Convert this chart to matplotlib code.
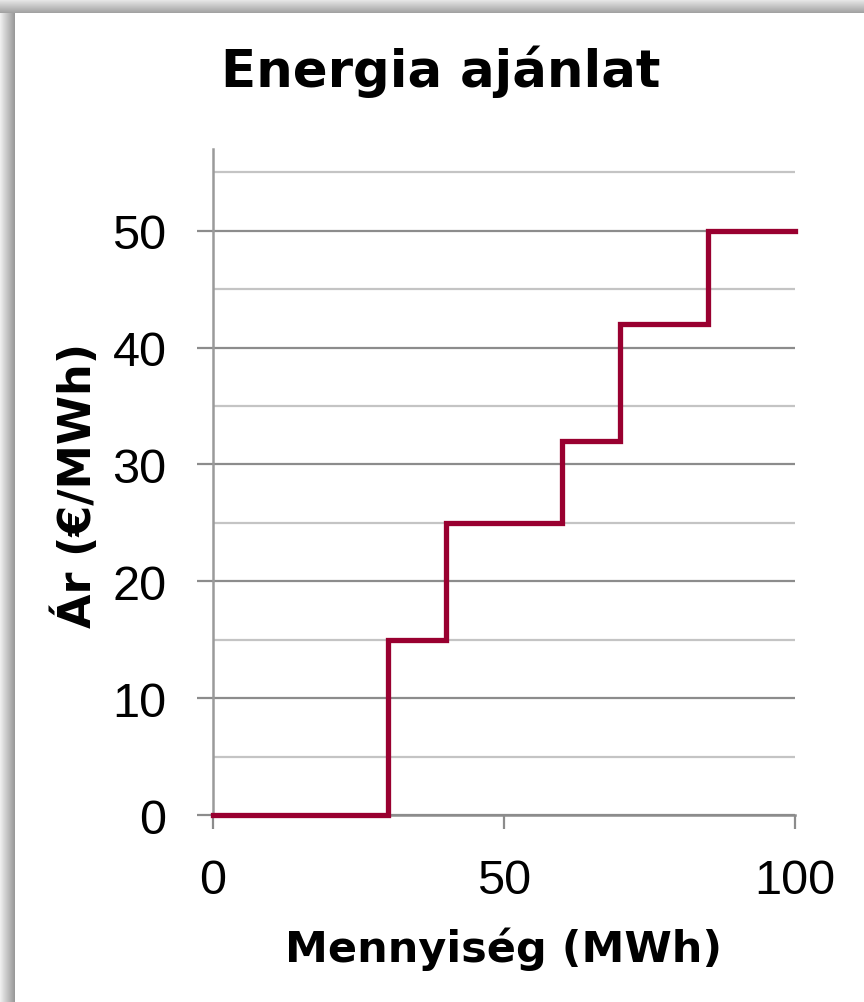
import numpy as np
import matplotlib
matplotlib.use("Agg")
import matplotlib.pyplot as plt
from matplotlib.ticker import MultipleLocator

# Offer curve: quantity break points (MWh) and the price of each block (EUR/MWh)
quantity_edges = [0, 30, 40, 60, 70, 85, 100]
block_prices = [0, 15, 25, 32, 42, 50]

title_text = "Energia ajánlat"
x_label = "Mennyiség (MWh)"
y_label = "Ár (€/MWh)"
x_ticks = [0, 50, 100]
y_ticks = [0, 10, 20, 30, 40, 50]

W, H = 864, 1003
fig = plt.figure(figsize=(W / 100, H / 100), dpi=100)
fig.patch.set_facecolor("white")

# Shaded frame along the left and top edges
frame = fig.add_axes([0, 0, 1, 1], zorder=-5)
frame.axis("off")
left_img = np.tile(np.linspace(0.93, 0.60, 15), (H, 1))
frame.imshow(left_img, cmap="gray", vmin=0, vmax=1, extent=[0, 15, H, 0],
             aspect="auto", interpolation="bilinear")
top_img = np.tile(np.linspace(0.92, 0.64, 14)[:, None], (1, W))
frame.imshow(top_img, cmap="gray", vmin=0, vmax=1, extent=[0, W, 14, 0],
             aspect="auto", interpolation="bilinear")
frame.set_xlim(0, W)
frame.set_ylim(H, 0)

ax = fig.add_axes([213 / W, 1 - 816 / H, (795 - 213) / W, (816 - 150) / H])
ax.set_facecolor("none")

# Step line: each price holds until the next quantity break
xs = quantity_edges
ys = block_prices + [block_prices[-1]]
ax.step(xs, ys, where="post", color="#990030", lw=3.8, solid_joinstyle="miter",
        zorder=5, clip_on=False)

ax.set_xlim(0, 100)
ax.set_ylim(0, 57)

ax.yaxis.set_minor_locator(MultipleLocator(5))
ax.set_yticks(y_ticks)
ax.set_xticks(x_ticks)
ax.grid(axis="y", which="major", color="#8c8c8c", lw=1.6)
ax.grid(axis="y", which="minor", color="#c4c4c4", lw=1.6)
ax.set_axisbelow(True)

for s in ["top", "right"]:
    ax.spines[s].set_visible(False)
ax.spines["left"].set_color("#9a9a9a")
ax.spines["left"].set_linewidth(1.8)
ax.spines["left"].set_bounds(0, 57)
ax.spines["bottom"].set_color("#8c8c8c")
ax.spines["bottom"].set_linewidth(1.8)

ax.tick_params(axis="y", which="major", direction="out", length=11.5, width=1.6,
               color="#8c8c8c", labelsize=35, pad=22)
ax.tick_params(axis="y", which="minor", length=0)
ax.tick_params(axis="x", direction="out", length=10, width=1.6,
               color="#8c8c8c", labelsize=35, pad=21)
for lbl in ax.get_xticklabels() + ax.get_yticklabels():
    lbl.set_fontfamily("Liberation Sans")

fig.text(441 / W, 1 - 72 / H, title_text, ha="center", va="center",
         fontsize=37, fontweight="bold")
fig.text(504 / W, 1 - 949 / H, x_label, ha="center", va="center",
         fontsize=31, fontweight="bold")
fig.text(76 / W, 1 - 485 / H, y_label, ha="center", va="center",
         fontsize=32, fontweight="bold", rotation=90)

fig.savefig("out.png", dpi=100, facecolor="white")
